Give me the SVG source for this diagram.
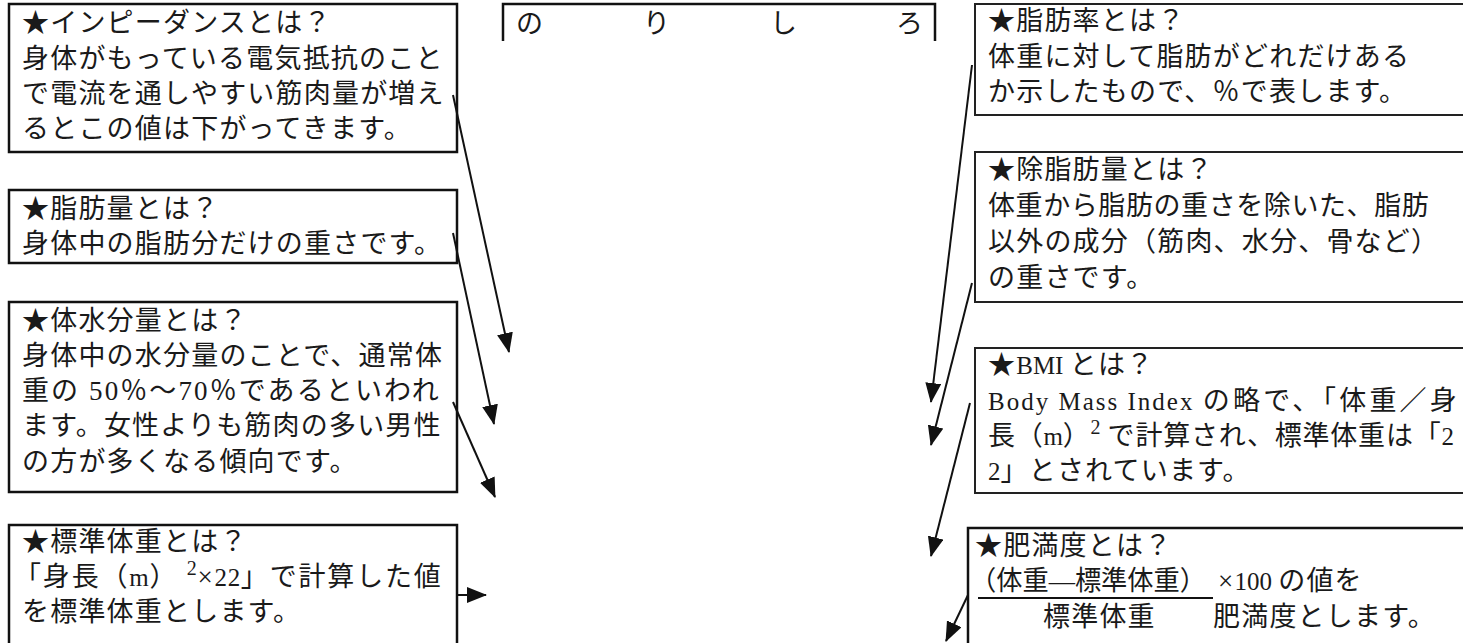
<svg xmlns="http://www.w3.org/2000/svg" width="1463" height="643" viewBox="0 0 1463 643">
<style>
.box{fill:#fff;stroke:#111;stroke-width:2.5}
.boxr{fill:#fff;stroke:#222;stroke-width:2}
.t{font-family:"Liberation Serif","Noto Sans CJK JP",serif;font-size:27px;fill:#1a1a1a;letter-spacing:1.2px}
.lat{font-size:25px;letter-spacing:0}
.sup{font-size:20px;letter-spacing:0}
.con{stroke:#111;stroke-width:2;fill:none;marker-end:url(#ah)}
</style>
<defs>
<marker id="ah" viewBox="0 0 20 16" refX="19" refY="8" markerWidth="20" markerHeight="16" orient="auto" markerUnits="userSpaceOnUse">
<path d="M0,0 L20,8 L0,16 z" fill="#111"/>
</marker>
</defs>
<rect width="1463" height="643" fill="#fff"/>

<g id="impedance">
<rect class="box" x="9" y="4" width="448" height="148"/>
<text class="t" x="22" y="32">★インピーダンスとは？</text>
<text class="t" x="22" y="68">身体がもっている電気抵抗のこと</text>
<text class="t" x="22" y="103">で電流を通しやすい筋肉量が増え</text>
<text class="t" x="22" y="138">るとこの値は下がってきます。</text>
</g>

<g id="fat-mass">
<rect class="box" x="9" y="190" width="448" height="73"/>
<text class="t" x="22" y="218">★脂肪量とは？</text>
<text class="t" x="22" y="253">身体中の脂肪分だけの重さです。</text>
</g>

<g id="body-water">
<rect class="box" x="9" y="302" width="448" height="190"/>
<text class="t" x="22" y="330">★体水分量とは？</text>
<text class="t" x="22" y="365">身体中の水分量のことで、通常体</text>
<text class="t" x="22" y="400" textLength="418" lengthAdjust="spacing">重の 50％～70％であるといわれ</text>
<text class="t" x="22" y="435">ます。女性よりも筋肉の多い男性</text>
<text class="t" x="22" y="471">の方が多くなる傾向です。</text>
</g>

<g id="standard-weight">
<rect class="box" x="9" y="525" width="448" height="130"/>
<text class="t" x="22" y="551">★標準体重とは？</text>
<text class="t" x="14" y="586" textLength="428" lengthAdjust="spacing">「身長（<tspan class="lat">m</tspan>） <tspan class="sup" dy="-11">2</tspan><tspan dy="11">×<tspan class="lat">22</tspan>」で計算した値</tspan></text>
<text class="t" x="22" y="621">を標準体重とします。</text>
</g>

<g id="norishiro">
<path d="M503,41 V4 H935 V41" fill="none" stroke="#111" stroke-width="2.5"/>
<text class="t" x="516" y="33">の</text>
<text class="t" x="643" y="33">り</text>
<text class="t" x="770" y="33">し</text>
<text class="t" x="896" y="33">ろ</text>
</g>

<g id="body-fat-rate">
<rect class="boxr" x="975" y="4" width="500" height="111"/>
<text class="t" x="988" y="30">★脂肪率とは？</text>
<text class="t" x="988" y="66">体重に対して脂肪がどれだけある</text>
<text class="t" x="988" y="101">か示したもので、％で表します。</text>
</g>

<g id="lean-mass">
<rect class="boxr" x="975" y="152" width="500" height="150"/>
<text class="t" x="988" y="179">★除脂肪量とは？</text>
<text class="t" x="988" y="215" textLength="442" lengthAdjust="spacing">体重から脂肪の重さを除いた、脂肪</text>
<text class="t" x="988" y="251">以外の成分（筋肉、水分、骨など）</text>
<text class="t" x="988" y="287">の重さです。</text>
</g>

<g id="bmi">
<rect class="boxr" x="975" y="348" width="500" height="145"/>
<text class="t" x="988" y="374">★<tspan class="lat">BMI </tspan>とは？</text>
<text class="t" x="988" y="410" textLength="470" lengthAdjust="spacing"><tspan class="lat">Body Mass Index </tspan>の略で、「体重／身</text>
<text class="t" x="988" y="445" textLength="466" lengthAdjust="spacing">長（<tspan class="lat">m</tspan>）<tspan class="sup" dy="-11">2</tspan><tspan dy="11"> で計算され、標準体重は「<tspan class="lat">2</tspan></tspan></text>
<text class="t" x="988" y="480"><tspan class="lat">2</tspan>」とされています。</text>
</g>

<g id="obesity">
<rect class="box" x="968" y="528" width="510" height="130"/>
<text class="t" x="975" y="555">★肥満度とは？</text>
<text class="t" x="970" y="590" style="letter-spacing:0" textLength="236" lengthAdjust="spacingAndGlyphs">（体重―標準体重）</text>
<line x1="978" y1="598" x2="1213" y2="598" stroke="#111" stroke-width="2"/>
<text class="t" x="1218" y="590">×<tspan class="lat">100 </tspan>の値を</text>
<text class="t" x="1043" y="626">標準体重</text>
<text class="t" x="1213" y="626">肥満度とします。</text>
</g>

<g id="connectors">
<line class="con" x1="453" y1="95" x2="509" y2="352"/>
<line class="con" x1="453" y1="233" x2="494" y2="424"/>
<line class="con" x1="453" y1="402" x2="495" y2="497"/>
<line class="con" x1="457" y1="595" x2="486" y2="595"/>
<line class="con" x1="972" y1="65" x2="931" y2="402"/>
<line class="con" x1="972" y1="283" x2="931" y2="445"/>
<line class="con" x1="970" y1="403" x2="931" y2="556"/>
<line class="con" x1="968" y1="595" x2="946" y2="641"/>
</g>
</svg>
